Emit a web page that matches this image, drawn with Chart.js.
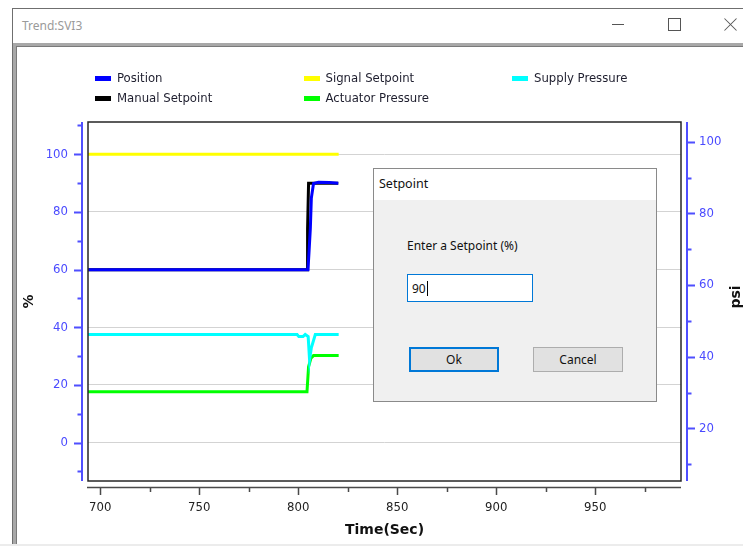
<!DOCTYPE html>
<html>
<head>
<meta charset="utf-8">
<script src="https://cdn.jsdelivr.net/npm/chart.js@4.4.0/dist/chart.umd.min.js"></script>
<style>
  html, body { margin: 0; padding: 0; }
  body { width: 743px; height: 546px; overflow: hidden; position: relative; background: #fff; }
  .win { position: absolute; left: 12px; top: 8px; width: 760px; height: 535px; border: 1px solid #6f6f6f; background: #fff; }
  .wintitle { position: absolute; left: 9px; top: 8px; font: 12px "Noto Sans", sans-serif; color: #9a9a9a; }
  .frame { position: absolute; left: 0; top: 34px; right: 0; bottom: 0; border-top: 3px solid #a8a8a8; border-left: 3px solid #a8a8a8; box-sizing: border-box; }
  .inner { position: absolute; left: 0; top: 0; right: 0; bottom: 0; border-top: 1px solid #7a7a7a; border-left: 1px solid #7a7a7a; }
  .btn-min { position: absolute; left: 612px; top: 24px; width: 12px; height: 1px; background: #555; }
  .btn-max { position: absolute; left: 668px; top: 18px; width: 11px; height: 11px; border: 1px solid #555; }
  .btn-x { position: absolute; left: 722px; top: 24px; width: 17px; height: 1px; background: #555; }
  .bottomband { position: absolute; left: 0; top: 544px; width: 743px; height: 2px; background: #ececec; }
  #trend { position: absolute; left: 0; top: 0; }
  .legend { position: absolute; left: 0; top: 0; font: 13px "DejaVu Sans Condensed", "DejaVu Sans", sans-serif; color: #1e1e2e; }
  .legend .item { position: absolute; white-space: nowrap; line-height: 16px; }
  .legend .sw { position: absolute; top: 6px; width: 16px; height: 5px; }
  .legend .lbl { position: absolute; left: 22px; top: 0; }
  .dlg { position: absolute; left: 373px; top: 168px; width: 282px; height: 232px; border: 1px solid #8a8a8a; background: #f0f0f0; font: 12px "Noto Sans", sans-serif; color: #111; }
  .dlg .hdr { position: absolute; left: 0; top: 0; width: 282px; height: 31px; background: #fff; }
  .dlg .hdrtxt { position: absolute; left: 5px; top: 6px; font-size: 12.5px; }
  .dlg .prompt { position: absolute; left: 33px; top: 68px; }
  .dlg .box { position: absolute; left: 33px; top: 105px; width: 124px; height: 26px; border: 1px solid #0078d7; background: #fff; }
  .dlg .box span { position: absolute; left: 4px; top: 5px; }
  .dlg .caret { position: absolute; left: 19px; top: 6px; width: 1px; height: 15px; background: #000; }
  .dlg .ok { position: absolute; left: 35px; top: 178px; width: 86px; height: 21px; border: 2px solid #0078d7; background: #e1e1e1; text-align: center; line-height: 21px; }
  .dlg .cancel { position: absolute; left: 159px; top: 178px; width: 88px; height: 23px; border: 1px solid #adadad; background: #e1e1e1; text-align: center; line-height: 23px; }
</style>
</head>
<body>
<div class="win">
  <div class="wintitle">Trend:SVI3</div>
  <div class="frame"><div class="inner"></div></div>
</div>
<div class="btn-min"></div>
<div class="btn-max"></div>
<div class="btn-x" style="transform: rotate(45deg)"></div>
<div class="btn-x" style="transform: rotate(-45deg)"></div>
<div class="bottomband"></div>
<canvas id="trend" width="743" height="546"></canvas>
<div class="legend" id="legend"></div>
<div class="dlg">
  <div class="hdr"><div class="hdrtxt">Setpoint</div></div>
  <div class="prompt">Enter a Setpoint (%)</div>
  <div class="box"><span>90</span><div class="caret"></div></div>
  <div class="ok">Ok</div>
  <div class="cancel">Cancel</div>
</div>
<script>
// tick labels
const timeTicks = [700, 750, 800, 850, 900, 950];
const percentTicks = [0, 20, 40, 60, 80, 100];
const psiTicks = [20, 40, 60, 80, 100];

// series (time in sec, % or psi)
const positionTime  = [690, 804.9, 805.4, 806.1, 806.6, 807.7, 810.2, 815.7, 820.2];
const positionValue = [60, 60, 65.8, 74.4, 84.8, 89.9, 90.3, 90.2, 90];

const signalTime  = [690, 820.4];
const signalValue = [100, 100];

const supplyTime  = [690, 799.4, 800.3, 802.4, 803.5, 805.0, 805.7, 806.6, 808.6, 820.4];
const supplyValue = [46.2, 46.2, 45.6, 45.6, 46.2, 45.6, 39.1, 42.5, 46.2, 46.2];

const manualTime  = [690, 804.6, 804.7, 805.2, 820.2];
const manualValue = [60, 60, 74, 90, 90];

const actuatorTime  = [690, 804.4, 805.2, 806.4, 807.7, 820.4];
const actuatorValue = [30.2, 30.2, 37.2, 39.6, 40.3, 40.3];

const seriesNames  = ['Position', 'Signal Setpoint', 'Supply Pressure', 'Manual Setpoint', 'Actuator Pressure'];
const seriesColors = ['#0000ff', '#ffff00', '#00ffff', '#000000', '#00ff00'];

const tickFont = '"DejaVu Sans Condensed", "DejaVu Sans", sans-serif';

function toPoints(ts, vs) {
  return ts.map((t, i) => ({ x: t, y: vs[i] }));
}

// legend, 3 columns like the app
const legendEl = document.getElementById('legend');
seriesNames.forEach((name, i) => {
  const col = i % 3, row = Math.floor(i / 3);
  const item = document.createElement('div');
  item.className = 'item';
  item.style.left = (95 + col * 208.5) + 'px';
  item.style.top = (70 + row * 20) + 'px';
  item.innerHTML = '<div class="sw" style="background:' + seriesColors[i] + '"></div><div class="lbl">' + name + '</div>';
  legendEl.appendChild(item);
});

// minor ticks halfway between labelled ones
function halfSteps(ticks, min, max) {
  const h = (ticks[1] - ticks[0]) / 2;
  const out = [];
  for (let n = Math.ceil((min - ticks[0]) / h); ticks[0] + n * h <= max; n++) {
    out.push({ v: ticks[0] + n * h, major: n % 2 === 0 });
  }
  return out;
}

// axis lines sit a few px off the plot box, as in the app
const axisDeco = {
  id: 'axisDeco',
  afterDraw(chart) {
    const { ctx, chartArea: a } = chart;
    const { x, y, y2 } = chart.scales;
    ctx.save();

    // plot box
    ctx.strokeStyle = '#262626';
    ctx.lineWidth = 1.5;
    ctx.strokeRect(a.left, a.top, a.right - a.left, a.bottom - a.top);

    // left % axis
    ctx.strokeStyle = '#4f4fff';
    ctx.lineWidth = 2;
    ctx.beginPath();
    ctx.moveTo(82, a.top); ctx.lineTo(82, a.bottom);
    halfSteps(percentTicks, y.min, y.max).forEach(t => {
      const py = Math.round(y.getPixelForValue(t.v)) + 0.5;
      ctx.moveTo(82, py); ctx.lineTo(t.major ? 74 : 77.5, py);
    });
    ctx.stroke();

    // right psi axis
    ctx.beginPath();
    ctx.moveTo(687, a.top); ctx.lineTo(687, a.bottom);
    halfSteps(psiTicks, y2.min, y2.max).forEach(t => {
      const py = Math.round(y2.getPixelForValue(t.v)) + 0.5;
      ctx.moveTo(687, py); ctx.lineTo(t.major ? 695 : 691.5, py);
    });
    ctx.stroke();

    // time axis
    ctx.strokeStyle = '#4a4a4a';
    ctx.lineWidth = 1.5;
    ctx.beginPath();
    ctx.moveTo(a.left - 1, 487.5); ctx.lineTo(a.right, 487.5);
    halfSteps(timeTicks, x.min, x.max).forEach(t => {
      const px = Math.round(x.getPixelForValue(t.v)) + 0.5;
      ctx.moveTo(px, 487.5); ctx.lineTo(px, t.major ? 495 : 492);
    });
    ctx.stroke();

    // psi title reads bottom-to-top
    ctx.translate(740, 297);
    ctx.rotate(-Math.PI / 2);
    ctx.fillStyle = '#111';
    ctx.font = 'bold 14px "DejaVu Sans", sans-serif';
    ctx.textAlign = 'center';
    ctx.textBaseline = 'alphabetic';
    ctx.fillText('psi', 0, 0);
    ctx.restore();
  }
};

new Chart(document.getElementById('trend'), {
  type: 'line',
  data: {
    datasets: [
      { label: seriesNames[0], data: toPoints(positionTime, positionValue), borderColor: seriesColors[0], yAxisID: 'y' },
      { label: seriesNames[1], data: toPoints(signalTime, signalValue), borderColor: seriesColors[1], yAxisID: 'y' },
      { label: seriesNames[2], data: toPoints(supplyTime, supplyValue), borderColor: seriesColors[2], yAxisID: 'y2' },
      { label: seriesNames[3], data: toPoints(manualTime, manualValue), borderColor: seriesColors[3], yAxisID: 'y' },
      { label: seriesNames[4], data: toPoints(actuatorTime, actuatorValue), borderColor: seriesColors[4], yAxisID: 'y2' }
    ]
  },
  options: {
    responsive: false,
    animation: false,
    devicePixelRatio: 1,
    layout: { padding: { top: 122, left: 0, right: 0, bottom: 0 } },
    elements: {
      point: { radius: 0, hoverRadius: 0 },
      line: { borderWidth: 3, tension: 0, fill: false }
    },
    plugins: {
      legend: { display: false },
      tooltip: { enabled: false }
    },
    scales: {
      x: {
        type: 'linear',
        min: 693.8,
        max: 993.3,
        grid: { display: false, drawTicks: false },
        border: { display: false },
        afterBuildTicks: s => { s.ticks = timeTicks.map(v => ({ value: v })); },
        afterFit: s => { s.height = 65; },
        ticks: { padding: 19, color: '#222', autoSkip: false, maxRotation: 0, font: { family: tickFont, size: 13 } },
        title: {
          display: true,
          text: 'Time(Sec)',
          color: '#111',
          font: { family: '"DejaVu Sans", sans-serif', size: 14, weight: 'bold' },
          padding: { top: 0, bottom: 7 }
        }
      },
      y: {
        position: 'left',
        min: -13.3,
        max: 111.2,
        grid: { color: '#d3d3d3', lineWidth: 1, drawTicks: false },
        border: { display: false },
        afterBuildTicks: s => { s.ticks = percentTicks.map(v => ({ value: v })); },
        afterFit: s => { s.width = 88; },
        ticks: { padding: 20, color: '#4a4aff', font: { family: tickFont, size: 13 } },
        title: {
          display: true,
          text: '%',
          color: '#111',
          font: { family: '"DejaVu Sans", sans-serif', size: 14, weight: 'bold' },
          padding: { top: 21, bottom: 0 }
        }
      },
      y2: {
        position: 'right',
        min: 5.3,
        max: 105.5,
        grid: { display: false, drawTicks: false },
        border: { display: false },
        afterBuildTicks: s => { s.ticks = psiTicks.map(v => ({ value: v })); },
        afterFit: s => { s.width = 62; },
        ticks: { padding: 18, color: '#4a4aff', font: { family: tickFont, size: 13 } }
      }
    }
  },
  plugins: [axisDeco]
});
</script>
</body>
</html>
